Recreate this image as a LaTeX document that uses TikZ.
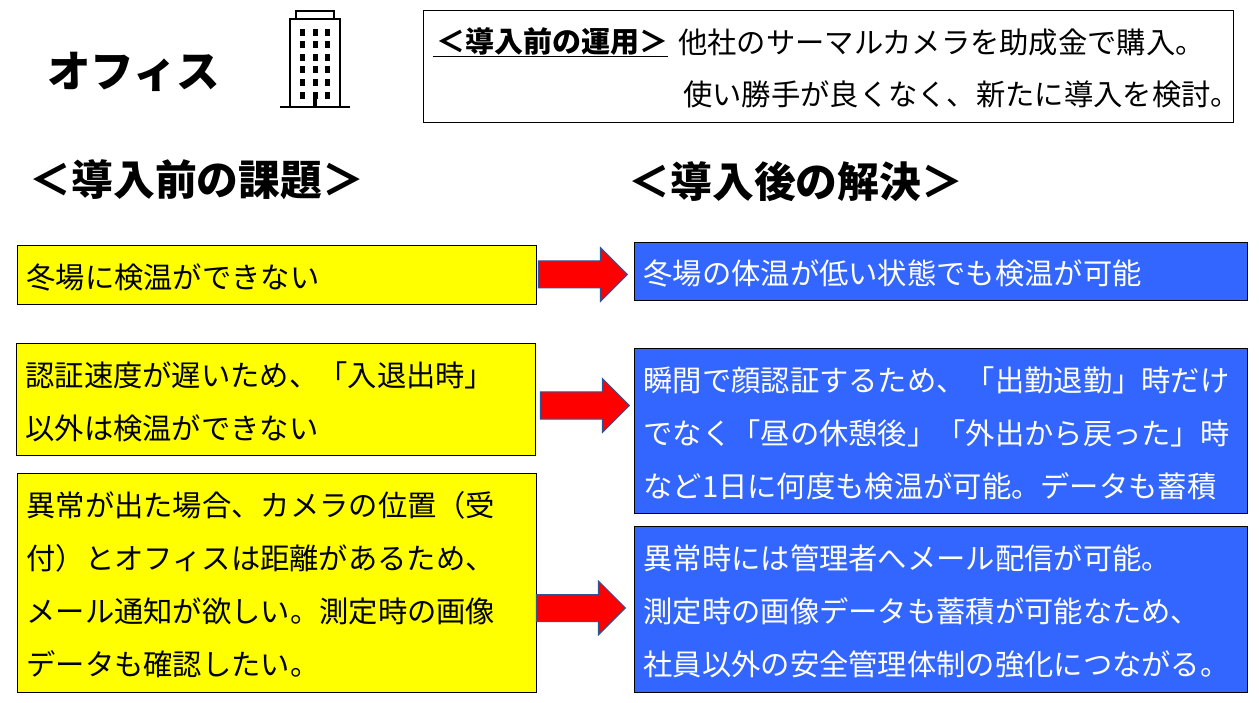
\documentclass[tikz,border=0pt]{standalone}
\usepackage{xcolor}
\usepackage{fontspec}
\setmainfont{Noto Sans CJK JP}
\usepackage{tikz}
\usetikzlibrary{shapes.arrows,positioning}
\definecolor{boxyellow}{HTML}{FFFF00}
\definecolor{boxblue}{HTML}{3366FF}
\definecolor{arrowred}{HTML}{FF0000}
\definecolor{arrowedge}{HTML}{2F5597}
\newcommand{\bodyfont}{\fontsize{29.3}{53}\selectfont}

\begin{document}
\begin{tikzpicture}[x=1pt, y=-1pt,
  yellowbox/.style={rectangle, draw=black, line width=1pt, fill=boxyellow, anchor=north west, align=left, text width=501pt, inner xsep=9pt, inner ysep=0pt, font=\bodyfont, execute at begin node={\rule{0pt}{29pt}}},
  bluebox/.style={rectangle, draw=black, line width=1pt, fill=boxblue, text=white, anchor=north west, align=left, text width=595pt, inner xsep=9pt, inner ysep=0pt, font=\bodyfont, execute at begin node={\rule{0pt}{29pt}}},
  redarrow/.style={single arrow, draw=arrowedge, line width=1pt, fill=arrowred, minimum height=89pt, minimum width=53pt, inner xsep=0pt, inner ysep=13pt, single arrow head extend=13.5pt, single arrow tip angle=90, anchor=tip},
  heading/.style={anchor=west, inner sep=0pt, font=\fontsize{41.8}{46}\selectfont\bfseries},
  bodyline/.style={anchor=west, inner sep=0pt, font=\bodyfont}]
\useasboundingbox (0,0) rectangle (1259,703);
% title and building
\node[anchor=west, inner sep=0pt, font=\fontsize{43.5}{46}\selectfont\bfseries] (title) at (47,72) {オフィス};
\draw[line width=2pt] (295.7,19) -- (295.7,11) -- (334,11) -- (334,19);
\draw[line width=2pt] (289.7,106.7) -- (289.7,19) -- (340.3,19) -- (340.3,106.7);
\draw[line width=2pt] (280,106.7) -- (350,106.7);
\foreach \wx in {302.7,315,327.7}
  \foreach \wy in {32.7,45,57.7,70,82.7,95.3}
    \fill[black] (\wx-2.5,\wy-3.5) rectangle (\wx+2.5,\wy+3.5);
\fill[black] (312.7,91.7) rectangle (317.3,106);
% box at the top
\node[rectangle, draw=black, line width=1pt, anchor=north west, minimum width=810pt, minimum height=112pt, inner sep=0pt] (before) at (423,10.5) {};
\node[anchor=west, inner sep=0pt, font=\fontsize{29}{32}\selectfont\bfseries] (beforehead) at (436,42) {＜導入前の運用＞};
\draw[line width=1pt] (433,56.5) -- (668,56.5);
\node[bodyline] (beforeone) at (678,42) {他社のサーマルカメラを助成金で購入。};
\node[bodyline] (beforetwo) at (683,94) {使い勝手が良くなく、新たに導入を検討。};
% headings
\node[heading] (issuehead) at (29.5,180) {＜導入前の課題＞};
\node[heading] (solvehead) at (628.5,182) {＜導入後の解決＞};
% issues
\node[yellowbox, minimum height=59pt] (issueone) at (17,245) {冬場に検温ができない};
\node[yellowbox, minimum height=112pt] (issuetwo) at (16,343) {認証速度が遅いため、「入退出時」\\以外は検温ができない};
\node[yellowbox, minimum height=219pt] (issuethree) at (17,473) {異常が出た場合、カメラの位置（受\\付）とオフィスは距離があるため、\\メール通知が欲しい。測定時の画像\\データも確認したい。};
% solutions
\node[bluebox, minimum height=58pt] (solveone) at (634,242) {冬場の体温が低い状態でも検温が可能};
\node[bluebox, minimum height=165pt] (solvetwo) at (634,348) {瞬間で顔認証するため、「出勤退勤」時だけ\\でなく「昼の休憩後」「外出から戻った」時\\など1日に何度も検温が可能。データも蓄積};
\node[bluebox, minimum height=166pt] (solvethree) at (634,526) {異常時には管理者へメール配信が可能。\\測定時の画像データも蓄積が可能なため、\\社員以外の安全管理体制の強化につながる。};
% arrows
\node[redarrow] (arrowone) at (628,274.5) {};
\node[redarrow] (arrowtwo) at (630,405.5) {};
\node[redarrow] (arrowthree) at (626,608) {};
\end{tikzpicture}
\end{document}
